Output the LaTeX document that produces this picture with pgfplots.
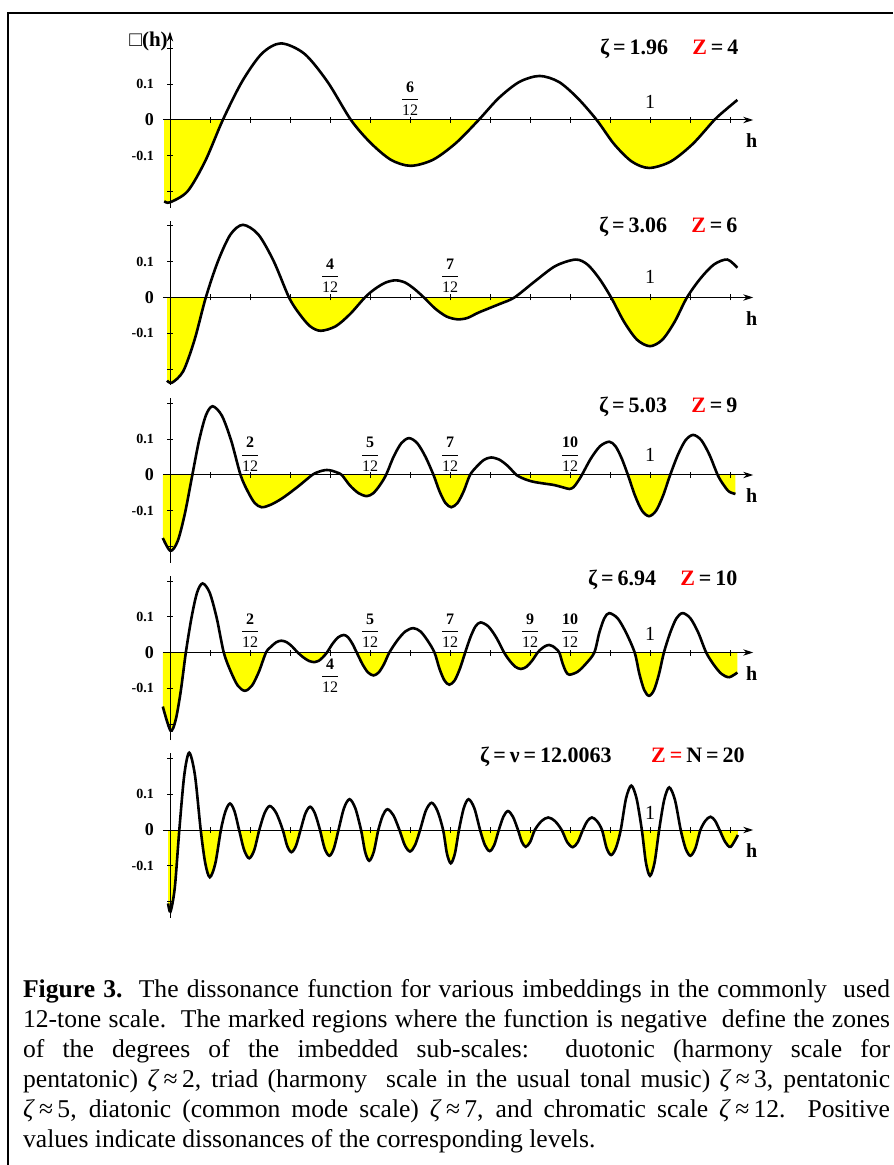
\documentclass[border=0pt]{standalone}
\usepackage{amsmath}
\usepackage{fontspec}
\setmainfont{Liberation Serif}
\usepackage{pgfplots}
\pgfplotsset{compat=1.18}
\usepgfplotslibrary{fillbetween}
\usetikzlibrary{arrows.meta}
\definecolor{zred}{RGB}{255,0,0}
\definecolor{fyel}{RGB}{255,255,0}
\newcommand{\fr}[2]{$\genfrac{}{}{0.45pt}{0}{\textbf{#1}}{\text{#2}}$}
\newcommand{\eqs}{\hspace{0.18em}=\hspace{0.18em}}
\newcommand{\ann}[2]{ζ\eqs #1\hspace{1.1em}\textcolor{zred}{Z}\eqs #2}
\pgfplotsset{panel/.style={
  anchor=south west, x=240pt, y=179pt,
  xmin=-0.015, xmax=1.215, ymin=-0.245, ymax=0.215,
  axis lines=middle, axis on top, clip=false,
  xtick={0.08333,0.16667,0.25,0.33333,0.41667,0.5,0.58333,0.66667,0.75,0.83333,0.91667,1,1.08333,1.16667},
  xticklabels={}, ytick={-0.2,-0.1,0.1,0.2}, yticklabels={},
  major tick length=3pt, tick style={black, line width=0.4pt},
  axis line style={line width=0.5pt, black},
  x axis line style={-{Stealth[length=5pt,width=3.2pt]}},
  y axis line style={-},
 },
 crv/.style={line width=1.3pt, black, smooth},
 fil/.style={fill=none, draw=none},
}
\tikzset{
 fl/.style={font=\fontsize{8}{9}\selectfont, inner sep=0pt},
 onel/.style={font=\fontsize{10}{11}\selectfont, inner sep=0pt},
}
\newcommand{\ylabs}{%
  \node[anchor=east, inner sep=0pt, font=\bfseries\fontsize{7}{8}\selectfont] at (axis cs:-0.033,0.1) {0.1};
  \node[anchor=east, inner sep=0pt, font=\bfseries\fontsize{7}{8}\selectfont] at (axis cs:-0.033,-0.1) {-0.1};
  \node[anchor=east, inner sep=0pt, font=\bfseries\fontsize{9}{10}\selectfont] at (axis cs:-0.033,0) {0};
  \node[font=\bfseries\fontsize{10}{12}\selectfont, inner sep=0pt] at (axis cs:1.212,-0.058) {h};
}
\begin{document}
\begin{tikzpicture}
\draw[line width=1.2pt] (361.5pt,53.5pt) -- (-81pt,53.5pt) -- (-81pt,-522.5pt);

% ---------------- panel 1 ----------------
\begin{axis}[panel, at={(-3.6pt,-43.855pt)}, ymax=0.247,
  y axis line style={-{Stealth[length=5pt,width=3.2pt]}}]
\addplot[crv, name path=c] table {
-0.012 -0.227
0.000 -0.230
0.0367 -0.199
0.0733 -0.115
0.110 0
0.150 0.107
0.191 0.185
0.231 0.214
0.280 0.185
0.328 0.107
0.377 0
0.418 -0.064
0.460 -0.111
0.501 -0.128
0.548 -0.111
0.596 -0.064
0.643 0
0.685 0.0615
0.728 0.1065
0.770 0.123
0.810 0.1065
0.849 0.0615
0.889 0
0.925 -0.067
0.962 -0.116
0.998 -0.134
1.043 -0.116
1.089 -0.067
1.134 0
1.158 0.029
1.182 0.056
};
\addplot[draw=none, name path=z] coordinates {(-0.012,-0.0003) (1.182,-0.0003)};
\addplot[fil] fill between[of=c and z, split, every even segment/.style={fill=fyel}];
\ylabs
\node[anchor=east, inner sep=0pt, font=\fontsize{10.5}{12}\selectfont] at (axis cs:-0.004,0.219) {□\textbf{(h)}};
\node[fl] at (axis cs:0.5,0.059) {\fr{6}{12}};
\node[onel] at (axis cs:1,0.05) {1};
\node[anchor=east, inner sep=0pt, font=\bfseries\fontsize{11}{13}\selectfont] at (axis cs:1.185,0.2) {\ann{1.96}{4}};
\end{axis}

% ---------------- panel 2 ----------------
\begin{axis}[panel, at={(-3.6pt,-132.605pt)}]
\addplot[crv, name path=c] table {
-0.006 -0.232
0.004 -0.238
0.0275 -0.206
0.051 -0.119
0.0746 0
0.100 0.1015
0.126 0.176
0.152 0.203
0.184 0.176
0.216 0.1015
0.248 0
0.270 -0.0465
0.292 -0.0805
0.314 -0.093
0.345 -0.0805
0.375 -0.0465
0.406 0
0.427 0.024
0.449 0.0416
0.470 0.048
0.490 0.0416
0.509 0.024
0.529 0
0.552 -0.0305
0.576 -0.053
0.599 -0.061
0.620 -0.057
0.643 -0.042
0.687 -0.018
0.7175 0
0.760 0.045
0.803 0.088
0.845 0.106
0.8697 0.092
0.8943 0.053
0.919 0
0.946 -0.068
0.973 -0.118
1.000 -0.136
1.0257 -0.118
1.0513 -0.068
1.077 0
1.105 0.053
1.133 0.092
1.161 0.106
1.182 0.083
};
\addplot[draw=none, name path=z] coordinates {(-0.006,-0.0003) (1.182,-0.0003)};
\addplot[fil] fill between[of=c and z, split, every even segment/.style={fill=fyel}];
\ylabs
\node[fl] at (axis cs:0.33333,0.061) {\fr{4}{12}};
\node[fl] at (axis cs:0.58333,0.061) {\fr{7}{12}};
\node[onel] at (axis cs:1,0.057) {1};
\node[anchor=east, inner sep=0pt, font=\bfseries\fontsize{11}{13}\selectfont] at (axis cs:1.183,0.196) {\ann{3.06}{6}};
\end{axis}

% ---------------- panel 3 ----------------
\begin{axis}[panel, at={(-3.6pt,-221.355pt)}]
\addplot[crv, name path=c] table {
-0.015 -0.176
0.001 -0.212
0.0162 -0.184
0.0313 -0.106
0.0465 0
0.0605 0.096
0.0746 0.166
0.0886 0.192
0.108 0.166
0.1275 0.096
0.147 0
0.1617 -0.045
0.1763 -0.078
0.191 -0.090
0.210 -0.083
0.235 -0.064
0.266 -0.033
0.296 0
0.306 0.007
0.317 0.012
0.327 0.014
0.337 0.012
0.348 0.007
0.358 0
0.375 -0.0295
0.393 -0.051
0.410 -0.059
0.4233 -0.051
0.4367 -0.0295
0.450 0
0.466 0.0515
0.482 0.089
0.498 0.103
0.515 0.089
0.532 0.0515
0.549 0
0.5613 -0.045
0.5737 -0.078
0.586 -0.090
0.599 -0.078
0.612 -0.045
0.625 0
0.6397 0.0245
0.6543 0.0424
0.669 0.049
0.6867 0.0424
0.7043 0.0245
0.722 0
0.740 -0.012
0.757 -0.019
0.780 -0.024
0.800 -0.028
0.820 -0.035
0.832 -0.039
0.8407 -0.034
0.849 -0.0195
0.858 0
0.877 0.0465
0.896 0.0805
0.915 0.093
0.928 0.0805
0.941 0.0465
0.954 0
0.9687 -0.0575
0.9833 -0.0996
0.998 -0.115
1.0127 -0.0996
1.0273 -0.0575
1.042 0
1.058 0.056
1.074 0.097
1.090 0.112
1.107 0.097
1.124 0.056
1.141 0
1.1527 -0.0265
1.1643 -0.046
1.178 -0.053
};
\addplot[draw=none, name path=z] coordinates {(-0.015,-0.0003) (1.178,-0.0003)};
\addplot[fil] fill between[of=c and z, split, every even segment/.style={fill=fyel}];
\ylabs
\node[fl] at (axis cs:0.16667,0.058) {\fr{2}{12}};
\node[fl] at (axis cs:0.41667,0.058) {\fr{5}{12}};
\node[fl] at (axis cs:0.58333,0.058) {\fr{7}{12}};
\node[fl] at (axis cs:0.83333,0.058) {\fr{10}{12}};
\node[onel] at (axis cs:1,0.056) {1};
\node[anchor=east, inner sep=0pt, font=\bfseries\fontsize{11}{13}\selectfont] at (axis cs:1.183,0.19) {\ann{5.03}{9}};
\end{axis}

% ---------------- panel 4 ----------------
\begin{axis}[panel, at={(-3.6pt,-310.105pt)}]
\addplot[crv, name path=c] table {
-0.015 -0.151
0.001 -0.218
0.0117 -0.189
0.0223 -0.109
0.033 0
0.0447 0.0965
0.0563 0.167
0.068 0.193
0.0827 0.167
0.0973 0.0965
0.112 0
0.1267 -0.0535
0.1413 -0.0927
0.156 -0.107
0.1707 -0.0927
0.1853 -0.0535
0.200 0
0.2107 0.0165
0.2213 0.0286
0.232 0.033
0.2433 0.0286
0.2547 0.0165
0.266 0
0.2777 -0.0135
0.2893 -0.0234
0.301 -0.027
0.3097 -0.0234
0.3183 -0.0135
0.327 0
0.3387 0.0245
0.3503 0.0424
0.362 0.049
0.371 0.0424
0.380 0.0245
0.389 0
0.4007 -0.032
0.4123 -0.0554
0.424 -0.064
0.435 -0.0554
0.446 -0.032
0.457 0
0.4737 0.034
0.4903 0.0589
0.507 0.068
0.5217 0.0589
0.5363 0.034
0.551 0
0.5613 -0.045
0.5717 -0.078
0.582 -0.090
0.593 -0.078
0.604 -0.045
0.615 0
0.6257 0.042
0.6363 0.0727
0.647 0.084
0.6633 0.0727
0.6797 0.042
0.696 0
0.7077 -0.023
0.7193 -0.0398
0.731 -0.046
0.7427 -0.0398
0.7543 -0.023
0.766 0
0.774 0.0105
0.782 0.018
0.790 0.021
0.797 0.018
0.804 0.0105
0.811 0
0.818 -0.031
0.825 -0.0537
0.832 -0.062
0.8493 -0.0537
0.8667 -0.031
0.884 0
0.8943 0.055
0.9047 0.0953
0.915 0.110
0.9327 0.0953
0.9503 0.055
0.968 0
0.978 -0.0605
0.988 -0.105
0.998 -0.121
1.0083 -0.105
1.0187 -0.0605
1.029 0
1.042 0.055
1.055 0.0953
1.068 0.110
1.0843 0.0953
1.1007 0.055
1.117 0
1.133 -0.0345
1.149 -0.0598
1.165 -0.069
1.182 -0.056
};
\addplot[draw=none, name path=z] coordinates {(-0.015,-0.0003) (1.182,-0.0003)};
\addplot[fil] fill between[of=c and z, split, every even segment/.style={fill=fyel}];
\ylabs
\node[fl] at (axis cs:0.16667,0.061) {\fr{2}{12}};
\node[fl] at (axis cs:0.33333,-0.065) {\fr{4}{12}};
\node[fl] at (axis cs:0.41667,0.061) {\fr{5}{12}};
\node[fl] at (axis cs:0.58333,0.061) {\fr{7}{12}};
\node[fl] at (axis cs:0.75,0.061) {\fr{9}{12}};
\node[fl] at (axis cs:0.83333,0.061) {\fr{10}{12}};
\node[onel] at (axis cs:1,0.052) {1};
\node[anchor=east, inner sep=0pt, font=\bfseries\fontsize{11}{13}\selectfont] at (axis cs:1.183,0.203) {\ann{6.94}{10}};
\end{axis}

% ---------------- panel 5 ----------------
\begin{axis}[panel, at={(-3.6pt,-398.855pt)}]
\addplot[crv, name path=c] table {
-0.004 -0.205
0.001 -0.228
0.010 -0.161
0.0194 0.000
0.0297 0.153
0.040 0.216
0.052 0.153
0.064 0.000
0.0735 -0.093
0.083 -0.132
0.0945 -0.093
0.106 0.000
0.1155 0.052
0.125 0.074
0.1345 0.052
0.144 0.000
0.1545 -0.056
0.165 -0.079
0.1755 -0.056
0.186 0.000
0.197 0.047
0.208 0.067
0.2215 0.047
0.235 0.000
0.244 -0.044
0.253 -0.062
0.2625 -0.044
0.272 0.000
0.282 0.046
0.292 0.065
0.302 0.046
0.3125 0.000
0.322 -0.051
0.332 -0.072
0.3415 -0.051
0.351 0.000
0.3625 0.061
0.374 0.086
0.386 0.061
0.398 0.000
0.4065 -0.061
0.415 -0.086
0.4245 -0.061
0.434 0.000
0.4435 0.041
0.453 0.058
0.4655 0.041
0.478 0.000
0.489 -0.042
0.500 -0.060
0.5105 -0.042
0.521 0.000
0.533 0.054
0.545 0.076
0.557 0.054
0.569 0.000
0.577 -0.066
0.585 -0.093
0.5935 -0.066
0.602 0.000
0.612 0.061
0.622 0.086
0.634 0.061
0.646 0.000
0.656 -0.042
0.666 -0.059
0.6755 -0.042
0.685 0.000
0.6945 0.037
0.704 0.053
0.7145 0.037
0.725 0.000
0.733 -0.033
0.741 -0.047
0.7505 -0.033
0.760 0.000
0.774 0.025
0.788 0.035
0.802 0.025
0.816 0.000
0.8275 -0.034
0.839 -0.048
0.8495 -0.034
0.860 0.000
0.8695 0.025
0.879 0.035
0.8895 0.025
0.900 0.000
0.9095 -0.050
0.919 -0.070
0.929 -0.050
0.939 0.000
0.950 0.088
0.961 0.124
0.972 0.088
0.983 0.000
0.9915 -0.091
1.000 -0.128
1.0095 -0.091
1.019 0.000
1.0295 0.084
1.040 0.119
1.052 0.084
1.064 0.000
1.074 -0.051
1.084 -0.072
1.0945 -0.051
1.105 0.000
1.1155 0.026
1.126 0.037
1.1355 0.026
1.145 0.000
1.1565 -0.033
1.168 -0.047
1.183 -0.014
};
\addplot[draw=none, name path=z] coordinates {(-0.004,-0.0003) (1.183,-0.0003)};
\addplot[fil] fill between[of=c and z, split, every even segment/.style={fill=fyel}];
\ylabs
\node[onel] at (axis cs:1,0.047) {1};
\node[anchor=east, inner sep=0pt, font=\bfseries\fontsize{11}{13}\selectfont] at (axis cs:1.198,0.205) {ζ\eqs ν\eqs 12.0063\hspace{1.8em}\textcolor{zred}{Z\eqs}N\eqs 20};
\end{axis}

% ---------------- caption ----------------
\node[anchor=base west, inner sep=0pt] at (-73.65pt,-438.5pt) {\parbox[t]{433.5pt}{\fontsize{12.8}{15}\selectfont
\textbf{Figure 3.}\ \ The dissonance function for various imbeddings in the commonly\ \ used\linebreak
12-tone scale.\ \ The marked regions where the function is negative\ \ define the zones\linebreak
of the degrees of the imbedded sub-scales:\ \ duotonic (harmony scale for\linebreak
pentatonic) \textit{ζ}\,≈\,2, triad (harmony\ \ scale in the usual tonal music) \textit{ζ}\,≈\,3, pentatonic\linebreak
\textit{ζ}\,≈\,5, diatonic (common mode scale) \textit{ζ}\,≈\,7, and chromatic scale \textit{ζ}\,≈\,12.\ \ Positive\linebreak
values indicate dissonances of the corresponding levels.}};
\pgfresetboundingbox
\useasboundingbox (-85pt,60pt) rectangle (361.5pt,-522.5pt);
\end{tikzpicture}
\end{document}
